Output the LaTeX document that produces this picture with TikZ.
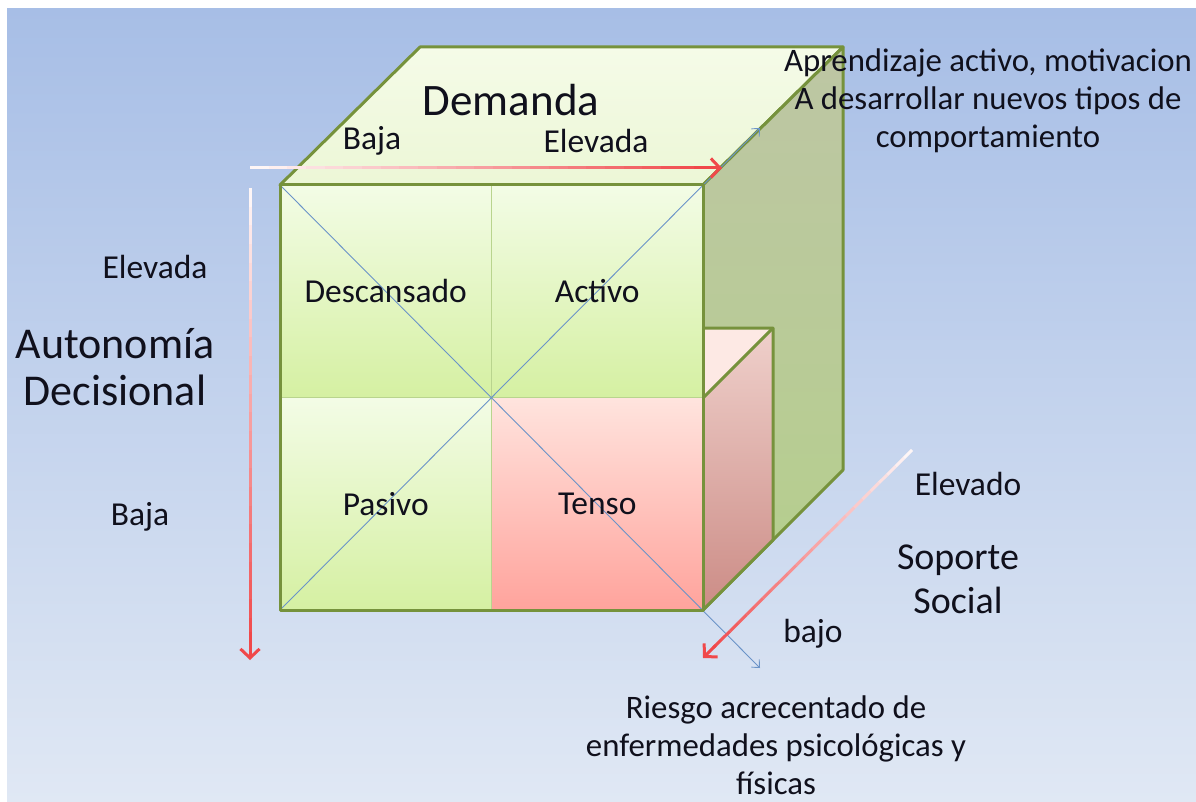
\documentclass[tikz,border=0pt]{standalone}
\usepackage{fontspec}
\setmainfont{Carlito}
\usetikzlibrary{arrows.meta,calc}

\definecolor{bgtop}{HTML}{A7BEE6}
\definecolor{bgbot}{HTML}{E0E8F4}
\definecolor{cubegreen}{HTML}{76923C}
\definecolor{celledge}{HTML}{B9D48E}
\definecolor{topface}{HTML}{F5FBE8}
\definecolor{topfacelow}{HTML}{ECF7D6}
\definecolor{sidetop}{HTML}{BDC6A4}
\definecolor{sidebot}{HTML}{B5CF8C}
\definecolor{celltop}{HTML}{F3FCE6}
\definecolor{cellbot}{HTML}{D5F0A2}
\definecolor{tensetop}{HTML}{FFE4DE}
\definecolor{tensebot}{HTML}{FFA39C}
\definecolor{pinktop}{HTML}{FDE9E4}
\definecolor{pinksidetop}{HTML}{EFD0CB}
\definecolor{pinksidebot}{HTML}{CC8C86}
\definecolor{diagblue}{HTML}{6A93C8}
\definecolor{arrowred}{HTML}{F0484A}
\definecolor{ink}{HTML}{10101C}

\tikzset{
  edge/.style={draw=cubegreen, line width=3pt, line join=round},
  cell/.style={draw=celledge, line width=1pt, inner sep=0pt,
    minimum width=211.5pt, minimum height=212.5pt},
  greencell/.style={cell, top color=celltop, bottom color=cellbot},
  redcell/.style={cell, top color=tensetop, bottom color=tensebot},
  diag/.style={draw=diagblue, line width=0.9pt,
    -{Straight Barb[length=6pt,width=11pt]}},
  arrowtip/.style={draw=arrowred, line width=3pt,
    -{Straight Barb[length=9pt,width=19pt]}},
  lbl/.style={text=ink, inner sep=0pt, font=\fontsize{33.5}{40}\selectfont},
  biglbl/.style={lbl, align=center, font=\fontsize{44}{47}\selectfont},
  note/.style={lbl, align=center, font=\fontsize{32.8}{38}\selectfont},
}

% red arrow that fades in from white
\newcommand{\fadearrow}[2]{%
  \foreach \k in {0,...,23}{%
    \pgfmathsetmacro\shadepct{5+\k*95/24}
    \draw[line width=3pt, draw=arrowred!\shadepct!white]
      ($(#1)!{\k*0.95/24}!(#2)$) -- ($(#1)!{(\k+1)*0.95/24}!(#2)$);
  }
  \draw[arrowtip] ($(#1)!0.94!(#2)$) -- (#2);
}

\begin{document}
\begin{tikzpicture}[x=1pt, y=-1pt]
\useasboundingbox (0,0) rectangle (1196,802);
\fill[white] (0,0) rectangle (1196,802);
\shade[top color=bgtop, bottom color=bgbot] (7,9) rectangle (1196,802);

% cube corners
\coordinate (ftl) at (280,185);
\coordinate (ftr) at (703,185);
\coordinate (fbl) at (280,610);
\coordinate (fbr) at (703,610);
\coordinate (btl) at (420,47);
\coordinate (btr) at (843,47);
\coordinate (bbr) at (843,470);

% top and side faces
\shade[top color=topface, bottom color=topfacelow, edge]
  (ftl) -- (btl) -- (btr) -- (ftr) -- cycle;
\shade[top color=sidetop, bottom color=sidebot, edge]
  (ftr) -- (btr) -- (bbr) -- (fbr) -- cycle;

% small pink box
\coordinate (pbl) at (703,398);
\coordinate (ptl) at (703,328);
\coordinate (ptr) at (773,328);
\coordinate (pbr) at (773,540);
\fill[pinktop] (ptl) -- (ptr) -- (pbl) -- cycle;
\shade[top color=pinksidetop, bottom color=pinksidebot]
  (pbl) -- (ptr) -- (pbr) -- (fbr) -- cycle;
\draw[edge] (ptl) -- (ptr) -- (pbr) -- (fbr);
\draw[edge] (pbl) -- (ptr);

% front cells
\node[greencell] (desc) at (385.75,291.25) {};
\node[greencell] (act) at (597.25,291.25) {};
\node[greencell] (pas) at (385.75,503.75) {};
\node[redcell] (tens) at (597.25,503.75) {};

% diagonals
\coordinate (diagup) at (760,128);
\coordinate (diagdown) at (760,668);
\draw[diag] (fbl) -- (diagup);
\draw[diag] (ftl) -- (diagdown);

\draw[edge] (ftl) rectangle (fbr);

\node[lbl] (descl) at (desc) {Descansado};
\node[lbl] (actl) at (act) {Activo};
\node[lbl] (pasl) at (pas) {Pasivo};
\node[lbl] (tensl) at (tens) {Tenso};

% axes
\coordinate (hs) at (250,168);
\coordinate (he) at (722,168);
\coordinate (vs) at (250,188);
\coordinate (ve) at (250,660);
\coordinate (ds) at (912,450);
\coordinate (de) at (703,658);
\fadearrow{hs}{he}
\fadearrow{vs}{ve}
\fadearrow{ds}{de}

\node[lbl, font=\fontsize{45}{52}\selectfont] (dem) at (511,100) {Demanda};
\node[lbl] (demlo) at (372,141) {Baja};
\node[lbl] (demhi) at (596,141) {Elevada};
\node[lbl] (autohi) at (155,267) {Elevada};
\node[lbl] (autolo) at (140,517) {Baja};
\node[biglbl] (auto) at (115,367) {Autonomía\\Decisional};
\node[note] (activo) at (988,101)
  {Aprendizaje activo, motivacion\\A desarrollar nuevos tipos de\\comportamiento};
\node[lbl] (sophi) at (968,484) {Elevado};
\node[lbl, align=center, font=\fontsize{38}{44}\selectfont] (sop) at (958,579)
  {Soporte\\Social};
\node[lbl] (soplo) at (813,634) {bajo};
\node[note] (riesgo) at (776,745)
  {Riesgo acrecentado de\\enfermedades psicológicas y\\físicas};
\end{tikzpicture}
\end{document}
